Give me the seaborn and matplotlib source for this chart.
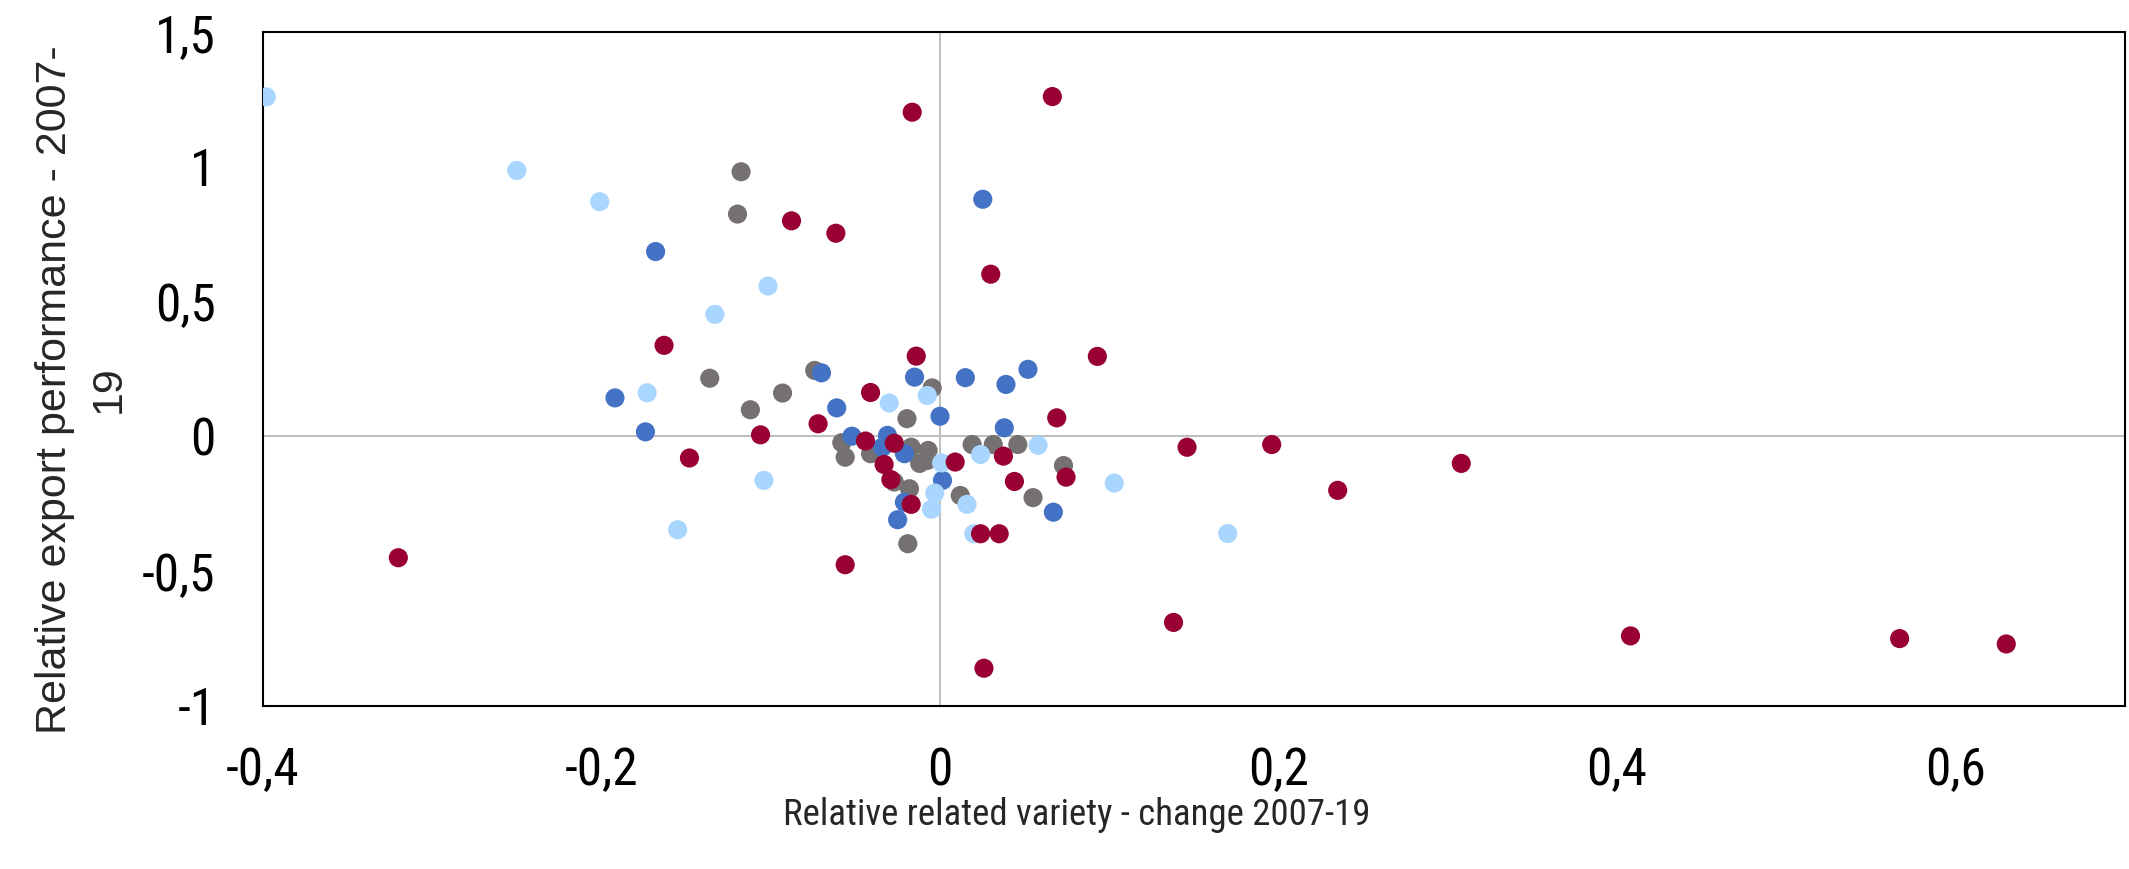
import matplotlib
matplotlib.use("Agg")
import matplotlib.pyplot as plt
from matplotlib import font_manager
import seaborn as sns
import pandas as pd

# ---------------- data ----------------
gray_x = [-0.1175, -0.1196, -0.136, -0.112, -0.093, -0.074, -0.0195, -0.0046, -0.058, -0.056,
          -0.041, -0.017, -0.007, -0.012, -0.0075, -0.027, -0.018, 0.019, 0.0315, 0.046,
          0.073, 0.055, 0.012, -0.019]
gray_y = [0.982, 0.825, 0.216, 0.099, 0.161, 0.245, 0.066, 0.18, -0.023, -0.077,
          -0.064, -0.04, -0.052, -0.10, -0.089, -0.169, -0.194, -0.030, -0.030, -0.030,
          -0.108, -0.227, -0.219, -0.398]

blue_x = [-0.168, 0.0253, -0.192, -0.174, -0.070, -0.061, -0.015, 0.0, 0.015, 0.039,
          0.052, 0.038, -0.052, -0.031, -0.034, -0.021, 0.0015, -0.021, -0.025, 0.067]
blue_y = [0.686, 0.88, 0.143, 0.017, 0.236, 0.106, 0.220, 0.075, 0.218, 0.193,
          0.249, 0.032, 0.001, 0.004, -0.04, -0.064, -0.163, -0.244, -0.309, -0.281]

lblue_x = [-0.398, -0.250, -0.201, -0.1016, -0.133, -0.173, -0.104, -0.155, -0.030, -0.0075,
           0.001, 0.024, 0.058, 0.103, -0.003, -0.005, 0.016, 0.020, 0.170]
lblue_y = [1.26, 0.987, 0.871, 0.558, 0.453, 0.162, -0.163, -0.346, 0.124, 0.152,
           -0.098, -0.067, -0.033, -0.173, -0.21, -0.27, -0.252, -0.361, -0.36]

red_x = [-0.0164, 0.0664, -0.0877, -0.0615, 0.030, -0.163, -0.148, -0.106, -0.072, -0.041,
         -0.014, -0.044, -0.027, -0.033, -0.029, -0.017, 0.009, 0.0375, 0.044, 0.0745,
         0.069, 0.093, 0.024, 0.035, -0.056, -0.32, 0.026, 0.146, 0.196, 0.235,
         0.308, 0.138, 0.408, 0.567, 0.630]
red_y = [1.203, 1.261, 0.80, 0.754, 0.602, 0.338, -0.080, 0.006, 0.047, 0.163,
         0.298, -0.017, -0.025, -0.104, -0.16, -0.252, -0.095, -0.073, -0.167, -0.151,
         0.069, 0.297, -0.361, -0.361, -0.476, -0.45, -0.86, -0.04, -0.03, -0.20,
         -0.10, -0.69, -0.74, -0.75, -0.77]

series_names = ["Series 1", "Series 2", "Series 3", "Series 4"]
series_colors = ["#767171", "#4472C4", "#A9D6FF", "#990033"]

x_ticks = [-0.4, -0.2, 0, 0.2, 0.4, 0.6]
x_tick_labels = ["-0,4", "-0,2", "0", "0,2", "0,4", "0,6"]
y_ticks = [-1, -0.5, 0, 0.5, 1, 1.5]
y_tick_labels = ["-1", "-0,5", "0", "0,5", "1", "1,5"]

x_label = "Relative related variety - change 2007-19"
y_label = "Relative export performance - 2007-\n19"

# ---------------- frame ----------------
frames = []
for name, xs, ys in zip(series_names,
                        [gray_x, blue_x, lblue_x, red_x],
                        [gray_y, blue_y, lblue_y, red_y]):
    frames.append(pd.DataFrame({"x": xs, "y": ys, "series": name}))
df = pd.concat(frames, ignore_index=True)

sns.set_theme(style="white")

# pick a condensed face if one is installed
ttf = font_manager.fontManager.ttflist
names = {f.name for f in ttf}
narrow_family, narrow_stretch, is_narrow = "Liberation Sans", "normal", False
for cand in ["Liberation Sans Narrow", "Arial Narrow", "Roboto Condensed", "Open Sans Condensed"]:
    if cand in names:
        narrow_family, is_narrow = cand, True
        break
if not is_narrow:
    for f in ttf:
        if f.name in ("Noto Sans", "Open Sans", "Roboto") and f.stretch in ("condensed", "semi-condensed") \
                and f.style == "normal":
            narrow_family, narrow_stretch, is_narrow = f.name, f.stretch, True
            break

plt.rcParams["font.family"] = [narrow_family, "Liberation Sans", "DejaVu Sans"]
plt.rcParams["font.stretch"] = narrow_stretch

tick_size = 37 if is_narrow else 34
xlab_size = 26.5 if is_narrow else 22.5

fig = plt.figure(figsize=(21.29, 8.69), dpi=100)
ax = fig.add_axes([0.1235, 0.1876, 0.8745, 0.7754])

ax.axhline(0, color="#BFBFBF", lw=1.5, zorder=1)
ax.axvline(0, color="#BFBFBF", lw=1.5, zorder=1)

sns.scatterplot(data=df, x="x", y="y", hue="series", hue_order=series_names,
                palette=dict(zip(series_names, series_colors)), s=190,
                linewidth=0, legend=False, ax=ax, zorder=3)

ax.set_xlim(-0.4, 0.7)
ax.set_ylim(-1, 1.5)
ax.set_xticks(x_ticks)
ax.set_xticklabels(x_tick_labels)
ax.set_yticks(y_ticks)
ax.set_yticklabels(y_tick_labels)
ax.tick_params(axis="both", length=0, labelsize=tick_size, colors="black")
ax.tick_params(axis="x", pad=29)
ax.tick_params(axis="y", pad=34)

for sp in ax.spines.values():
    sp.set_visible(True)
    sp.set_color("black")
    sp.set_linewidth(1.5)

ax.set_xlabel(x_label, fontsize=xlab_size, color="#262626")
ax.xaxis.set_label_coords(0.437, -0.135)
ax.set_ylabel(y_label, fontsize=31, color="#262626",
              family=["Liberation Sans", "DejaVu Sans"], stretch="normal", linespacing=1.45)
ax.yaxis.set_label_coords(-0.072, 0.47)

fig.savefig("out.png", dpi=100, facecolor="white")
